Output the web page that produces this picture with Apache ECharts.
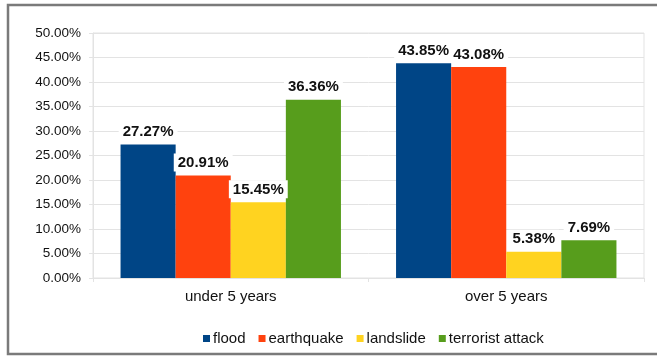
<!DOCTYPE html>
<html>
<head>
<meta charset="utf-8">
<style>
  html, body { margin: 0; padding: 0; background: #fff; }
  #chart { width: 657px; height: 356px; }
</style>
<script src="https://cdn.jsdelivr.net/npm/echarts@6/dist/echarts.min.js"></script>
</head>
<body>
<div id="chart"></div>
<script>
// Share of responses per hazard type, grouped by residence period
const categories = ['under 5 years', 'over 5 years'];
const flood = [27.27, 43.85];
const earthquake = [20.91, 43.08];
const landslide = [15.45, 5.38];
const terroristAttack = [36.36, 7.69];
const yTicks = [0, 5, 10, 15, 20, 25, 30, 35, 40, 45, 50];

const font = '"Liberation Sans", Arial, sans-serif';
const gridColor = '#e3e3e3';

function seriesOf(name, data, color) {
  return {
    name: name,
    type: 'bar',
    data: data,
    barGap: '0%',
    barCategoryGap: '20%',
    itemStyle: { color: color },
    label: {
      show: true,
      position: 'top',
      distance: 4,
      formatter: p => p.value.toFixed(2) + '%',
      fontFamily: font,
      fontWeight: 'bold',
      fontSize: 15,
      color: '#111',
      backgroundColor: '#fff',
      padding: [2, 4, 1, 4]
    }
  };
}

const chart = echarts.init(document.getElementById('chart'), null, { renderer: 'canvas' });
chart.setOption({
  animation: false,
  backgroundColor: '#fff',
  textStyle: { fontFamily: font },
  graphic: [{
    type: 'rect',
    shape: { x: 8, y: 5, width: 700, height: 349 },
    style: { fill: 'none', stroke: '#7a7a7a', lineWidth: 2.5 },
    silent: true,
    z: 100
  }],
  grid: {
    left: 93, right: 13, top: 33, bottom: 78,
    show: true, borderColor: gridColor, borderWidth: 1
  },
  legend: {
    top: 326,
    left: 198,
    itemWidth: 7,
    itemHeight: 7,
    itemGap: 13,
    icon: 'rect',
    textStyle: { fontFamily: font, fontSize: 15, color: '#111', padding: [0, 0, 0, -2] },
    data: ['flood', 'earthquake', 'landslide', 'terrorist attack']
  },
  xAxis: {
    type: 'category',
    data: categories,
    axisLine: { lineStyle: { color: gridColor } },
    axisTick: { show: true, length: 4, lineStyle: { color: gridColor } },
    axisLabel: { fontFamily: font, fontSize: 15, color: '#111', margin: 11 }
  },
  yAxis: {
    type: 'value',
    min: yTicks[0],
    max: yTicks[yTicks.length - 1],
    interval: 5,
    axisLine: { show: true, lineStyle: { color: gridColor } },
    axisTick: { show: true, length: 4, lineStyle: { color: gridColor } },
    splitLine: { lineStyle: { color: gridColor } },
    axisLabel: {
      fontFamily: font, fontSize: 13.5, color: '#111', margin: 12,
      formatter: v => v.toFixed(2) + '%'
    }
  },
  series: [
    seriesOf('flood', flood, '#004586'),
    seriesOf('earthquake', earthquake, '#ff420e'),
    seriesOf('landslide', landslide, '#ffd320'),
    seriesOf('terrorist attack', terroristAttack, '#579d1c')
  ]
});
</script>
</body>
</html>
